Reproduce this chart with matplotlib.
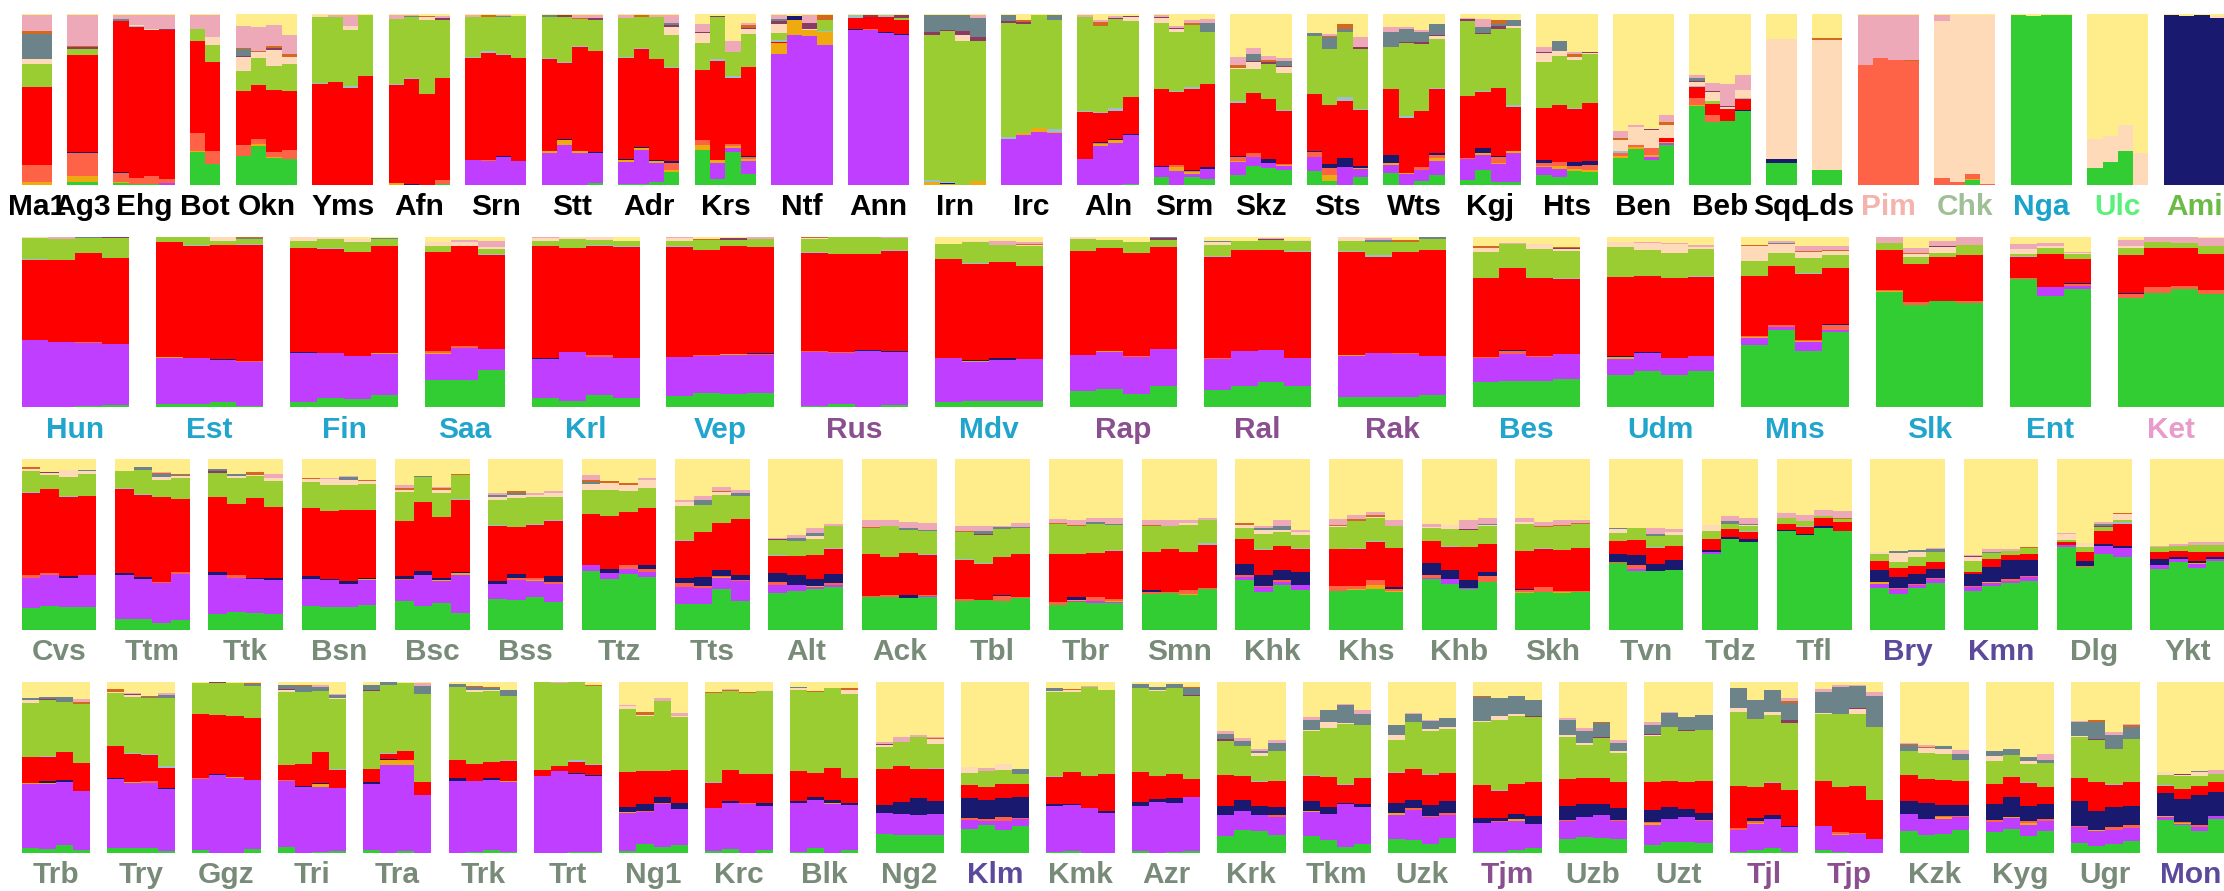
import matplotlib
matplotlib.use("Agg")
import matplotlib.pyplot as plt

# ancestry components, stacked bottom to top
comp_order = "GPOTNRBYEMSCKL"
comp_colors = {
    "G": "#32CD32",  # green
    "P": "#BF3EFF",  # purple
    "O": "#EEAA0E",  # goldenrod
    "T": "#FF6347",  # tomato
    "N": "#191970",  # navy
    "R": "#FF0000",  # red
    "B": "#9AC0CD",  # light blue
    "Y": "#9ACD32",  # yellow green
    "E": "#FFDAB9",  # peach
    "M": "#8B3A62",  # maroon
    "S": "#6C8389",  # slate
    "C": "#D2691E",  # chocolate
    "K": "#EEA9B8",  # pink
    "L": "#FFEC8B",  # khaki
}

BLK = "#000000"
BLU = "#22A5CC"
PUR = "#8A4F8F"
GRN = "#788A78"
DPU = "#5B4A9B"

# ---------------- row 1 ----------------
row1_names = ["Ma1", "Ag3", "Ehg", "Bot", "Okn", "Yms", "Afn", "Srn", "Stt", "Adr", "Krs",
              "Ntf", "Ann", "Irn", "Irc", "Aln", "Srm", "Skz", "Sts", "Wts", "Kgj", "Hts",
              "Ben", "Beb", "Sqq", "Lds", "Pim", "Chk", "Nga", "Ulc", "Ami"]
row1_label_colors = [BLK] * 26 + ["#F4B3AC", "#9FBF96", "#1CA3CC", "#5BF07C", "#6CBB47"]
row1_q = [
    ["O1.5 T10 R46 Y13 E3 S15 C1.5 K9.5 L0.5"],
    ["G2 O3 T13.5 N0.5 R57 Y3.5 M0.8 C1 K18 L0.5"],
    ["G1 O1 T5 N0.5 R88 S1 K2.5 L0.5", "G0.5 T3.5 R88 B0.5 E1 K5.7 L0.5",
     "G0.5 T4.5 N0.5 R85 E1 K8 L0.5", "P1 T2.5 R86 M1 K8 L0.5"],
    ["G19 O0.5 T10.5 N0.5 R53 B0.5 Y7 K8 L0.5", "G12 T8 R52 Y9.5 E4.7 K13 L0.5"],
    ["G17 T6.5 R31.5 Y11.7 E8 M0.6 S4 C0.6 K13 L7",
     "G23 O1 T3 R31.5 Y16 E3.5 C0.6 K14 L7.6",
     "G16 O0.6 T3 R36 Y14 E9.4 M1.2 C1.2 K12.3 L6.4",
     "G15 T5.3 R34 Y15.8 E4 C1.8 K11 L12.3"],
    ["R59 B0.6 Y38.6 E1.2 L0.6", "R60 Y38 K1.2 L0.6",
     "R56.7 B1.2 Y32.7 E2.3 K6.4 L0.6", "R63.7 Y35.7 L0.6"],
    ["O1.2 R57 B0.6 Y38 K2.3 L0.6", "N0.6 R61.4 B0.6 Y35.7 S0.6 K0.6 L0.6",
     "R53 Y43 E1.8 C0.6 L1", "G0.6 T2.3 R59.6 Y34 M1.2 K1.2 L1"],
    ["P14.6 R59.6 B0.6 Y23.4 K1.2 L0.6", "P14 T0.6 R62.6 B1.2 Y20 C1.2 L0.6",
     "P16.4 N0.6 R59 B0.6 Y21.6 S0.6 K0.6 L0.6", "P14 R60 Y25 L1"],
    ["P18.7 O1.2 R53.8 B0.6 Y24 S1.2 L0.6", "P23.4 O3 N0.6 R44.4 B0.6 Y26.3 M1.2 L0.6",
     "P18.7 O1.2 R60.8 B0.6 Y15.8 C0.6 K1.8 L0.6", "G1.2 P17.5 N0.6 R59 Y18 M1.2 K1.8 L0.6"],
    ["G0.6 P12.8 O1.2 N0.6 R59 B0.6 Y22.8 K1.8 L0.6",
     "G0.6 P19.9 O1.2 N0.6 R57.3 B0.6 Y18 C1.2 L0.6",
     "G1.8 P11 O1.2 N0.6 R59 Y24.6 K1.2 L0.6",
     "G7.6 O1.2 T4 N1.2 R54.4 B0.6 Y18.7 E4.7 M1.2 S1.2 K4.7 L0.6"],
    ["G20.5 O3 T3 R41 Y15.8 E5.8 M0.6 K4.7 L5.8",
     "G3.5 P9.4 O1.8 R57.9 B1.2 Y24.6 M0.6 L1.2",
     "G19.3 P2.3 O1.2 T1.2 R38.6 B1.2 Y14 K6.4 L15.8",
     "G6.4 P7.6 O1.2 T1.2 N0.6 R52 Y19.3 E3 M0.6 C1.8 K1.2 L5.3"],
    ["P76.6 O6.4 R0.6 B1.2 Y4 E5.3 M1.8 S1.2 K2.3 L0.6", "P87.7 O8.8 N2.3 L1.2",
     "P87 O3.5 E0.6 M3.5 K4.7 L0.6", "P81.9 O7.6 B0.6 Y6.4 C3 L0.6"],
    ["P90.6 N0.6 R6.4 B1.8 L0.6", "P90.6 T0.6 R7 M1.2 L0.6",
     "P88.9 N0.6 R8.8 B1.2 L0.6", "P87.7 N0.6 R8.2 Y1.2 M1.8 L0.6"],
    ["O1.8 B1.2 Y84.8 M1.8 S10 L0.6", "O0.6 N0.6 B0.6 Y88.3 M0.6 S8.8 L0.6",
     "Y84.2 E3.5 M2.3 S9.4 L0.6", "O2.3 Y81.9 M2.3 S11 K1.8 L0.6"],
    ["P26.9 B1.2 Y66.7 M1.2 S3.5 L0.6", "P29.2 O1.2 Y63.7 M1.2 C1.2 L3.5",
     "P31 O2.3 Y66 L0.6", "P30.4 O0.6 B1.8 Y63.7 S3 L0.6"],
    ["P15.2 R27.5 B0.6 Y55 K1.2 L0.6",
     "P22.8 O1.2 T0.6 N0.6 R17 B0.6 Y50.3 C2.3 K1.2 L3.5",
     "P24.6 O1.8 N0.6 R16.4 B1.8 Y52 M0.6 K1.2 L1.2",
     "G0.6 P28.7 N0.6 R21.6 Y44.4 E2.3 M0.6 L1.2"],
    ["G4.7 P5.8 N0.6 R45 Y38.6 E3 M0.6 K1.2 L0.6",
     "P8.2 O2.3 T1.2 R42.7 B0.6 Y34.5 E1.8 M0.6 K1.2 L7",
     "G4.7 P1.8 O1.2 T0.6 N0.6 R47.4 B1.2 Y36.3 C1.2 K1.8 L3.5",
     "G3.5 P5.8 N1.2 R48.5 Y30.4 S5.3 K2.3 L3"],
    ["G5.8 P7.6 O0.6 T2.3 N0.6 R31 B1.2 Y18.7 E0.6 C1.8 K4.7 L25",
     "G11 P5.3 T2.3 R35 Y14 E4 M0.6 S4 K3.5 L19.9",
     "G10 P3 N2.3 R35 Y20.5 M1.2 C1.2 K2.3 L24.6",
     "G8.8 P2.3 O0.6 T0.6 R31 B0.6 Y21.6 E3.5 M0.6 S3 K1.8 L25.7"],
    ["G8.2 P8.2 T3 N0.6 R33.3 Y33.9 S1.8 L11",
     "G2.3 O3.5 T4 N2.3 R34.5 Y32.7 S7 C0.6 K1.2 L11.7",
     "P10.5 N5.3 R33.3 B2.3 Y38 S1.8 C3 L5.8",
     "G4.7 P4.7 O0.6 N1.2 R32.7 B0.6 Y35 M1.2 K5.8 L13.5"],
    ["G7 P4.7 O1.2 N4.7 R38.6 Y24.6 S8.8 K3 L7.6",
     "P6.4 O0.6 R32.2 B1.2 Y42.7 M0.6 S7.6 K1.2 L7.6",
     "G2.3 P6.4 T1.8 R32.7 Y39.2 M1.2 S5.8 K1.2 L9.4",
     "G5.8 P8.2 O1.8 T1.8 N1.2 R37.4 B0.6 Y28.7 E1.8 M0.6 S6.4 L5.8"],
    ["G3 P12.3 T0.6 R36.3 Y43.9 M1.2 K0.6 L2.3",
     "G8.8 P8.8 O1.2 N3 R32.7 B0.6 Y33.3 M0.6 S3.5 K4.7 L3",
     "G1.8 P10.5 O0.6 T3.5 N0.6 R39.8 Y34.5 M1.8 S1.2 C2.3 L3.5",
     "G1.8 P17 O1.2 R25.7 B1.2 Y45 E1.2 S3.5 L3.5"],
    ["G5.8 P4.7 O0.6 T1.8 N1.8 R30.4 Y26.9 E5.3 M0.6 K2.9 L19.3",
     "G4.7 P4.7 O1.8 T2.3 R33.3 Y28.7 E3 S5.8 L15.8",
     "G8.2 O1.2 T1.8 N2.3 R31 B0.6 Y28 E1.8 C1.8 K1.2 L22.2",
     "G7.6 O1.2 T3 N2.3 R33.9 Y28.7 M0.6 E0.6 L22.2"],
    ["G15.8 T1.8 O1.2 B1.2 E6.4 C1.2 K4 L68.4",
     "G21 O1.2 T1.2 E10.5 K1.2 L65",
     "G14.6 P1.8 O1.2 T4 E10.5 M0.6 L67.3",
     "G23.4 P1 O1 R2.1 E7.6 C1.8 K4 L59"],
    ["G46.2 O0.6 T4 R6.4 B0.6 E2.3 M0.6 S1.8 K1.8 L35.7",
     "G36.8 T4 R6.4 Y1.8 E5.3 M0.6 K4.7 L40.4",
     "G37.4 R7 E1.2 M0.6 K12.9 L41",
     "G43.3 N0.6 R6.4 B0.6 E4.7 K8.8 L35.7"],
    ["G12.9 N2.3 E70.2 L14.6"],
    ["G8.8 E76 C1.2 L14"],
    ["T70.2 K29.2 L0.6", "T74.3 K25.1 L0.6", "T73 K26.3 L0.6", "T72.5 C0.6 K26.3 L0.6"],
    ["T4 E91.8 K3.5 L0.6", "T1.8 E97.6 L0.6", "G3 O0.6 T3 E93 L0.6", "T0.6 E98.8 L0.6"],
    ["G99.4 L0.6", "G98.8 L1.2", "G99.4 L0.6", "G99.4 L0.6"],
    ["G10 E17 L73", "G13.5 E15.2 L71.3", "G19.9 E15.2 L64.9", "E18.7 L81.3"],
    ["N99.4 L0.6", "N98.8 L1.2", "N99.4 L0.6", "N97.7 E1.2 L1.2"],
]

# ---------------- row 2 ----------------
row2_names = ["Hun", "Est", "Fin", "Saa", "Krl", "Vep", "Rus", "Mdv", "Rap", "Ral", "Rak",
              "Bes", "Udm", "Mns", "Slk", "Ent", "Ket"]
row2_label_colors = [BLU, BLU, BLU, BLU, BLU, BLU, PUR, BLU, PUR, PUR, PUR,
                     BLU, BLU, BLU, BLU, BLU, "#E99BCB"]
row2_q = [
    ["P39.2 R47 B0.6 Y12.4 E0.6 L0.2", "P38 R48.2 Y12.4 K1.2 L0.2",
     "G0.6 P36.9 T0.6 R52.4 Y8.8 S0.6 L0.2", "G1.2 P35.7 R50.6 Y11.8 M0.6"],
    ["G1.8 P26.9 O0.6 R67.6 Y2.9 L0.2", "G1.8 P26.9 R65.9 B0.6 Y4.7",
     "G2.9 P24.5 N0.6 R67 Y2.4 E2.4", "G0.6 P25.7 T0.6 R68.2 B0.6 Y2.9 S0.6 C0.6"],
    ["G2.9 P28.6 N0.6 R61.2 Y4.1 E2.4", "G5.3 P26.3 R61.2 B0.6 Y5.3 E1.2",
     "G4.7 P25.1 R61.2 Y5.9 E1.8 L1.2", "G7.1 P23.9 O0.6 R62.9 Y4.1 S0.6 L0.6"],
    ["G15.7 P15.3 O0.6 T1.2 R58.2 Y3.5 E2.4 L2.9",
     "G15.7 P18.8 T1.2 R58.8 E2.4 K1.2 L1.8",
     "G21.6 P12.4 R55.3 B0.6 Y2.9 E1.2 K3.5 L2.4"],
    ["G5.3 P22.7 N0.6 R65.9 Y2.9 E1.8 K0.6", "G3.5 P28.6 R61.2 Y5.3 E1.2",
     "G7.1 P22.2 T1.2 R64 B0.6 Y2.9 E1.8", "G5.3 P23.3 R65.3 B0.6 Y2.9 L2.4"],
    ["G6.5 P22.7 R64.7 B0.6 Y2.9 E1.8 K0.6", "G8.2 P21.6 T0.6 R61.8 Y5.9 C0.6 L1.2",
     "G7.6 P22.7 O0.6 R63.5 Y3.5 M1.2 L0.6", "G8.2 P22.2 T0.6 N0.6 R62.4 Y4.7 K1.2"],
    ["G0.6 P31.6 T0.6 R57.6 B0.6 Y7.6 E0.6 C0.6", "G1.8 P29.8 T0.6 R57.6 Y10",
     "P32.7 N0.6 R56.5 Y10", "G1.2 P31 N0.6 R58.8 B0.6 Y7.1 K0.6"],
    ["G2.9 P25.7 R58.2 Y8.8 L4.1", "G3.5 P22.7 O0.6 N0.6 R56.5 B0.6 Y12.4 E0.6 L2.4",
     "G3.5 P23.9 N1.2 R56.5 Y10 K2.4 L2.4", "G3.5 P24.5 R54.7 Y11.8 E0.6 C0.6 K1.2 L2.9"],
    ["G9.4 P21 R61.2 Y7.1 E1.2", "G10.4 P21.8 O0.6 R60.6 Y4.7 L1.8",
     "G7.6 P21.6 T0.6 R60.6 Y6.5 L2.9", "G12.4 P21.6 R60 Y4.1 M1.2 S0.6"],
    ["G10 P18 T0.6 R59.4 B0.6 Y6.5 E1.8 S0.6 L2.4", "G12.4 P20.4 R59.4 Y5.3 L2.4",
     "G14.7 P18.6 R58.8 Y5.9 M0.6 K0.6 L0.6", "G12.4 P16.3 R62.4 B0.6 Y5.9 E0.6 L1.8"],
    ["G5.7 P24.1 O0.6 R60.6 B0.6 Y5.9 E2.4",
     "G5.7 P25.9 R56.5 B1.2 Y7.6 S1.2 K1.2 L0.6",
     "G5.7 P25.3 T0.6 R59.4 Y5.9 C1.2 L1.8", "G7.1 P22.7 R62.4 Y6.5 S1.2"],
    ["G14.7 P13.9 T0.6 R46.5 Y15.3 E2.4 C1.2 L5.3",
     "G15.3 P15.7 T1.8 N0.6 R48.2 Y14.1 K0.6 L3.5",
     "G15.3 P13.9 T0.6 R45.9 Y17.1 E2.9 L4.1",
     "G16.5 P14.5 R44.1 B0.6 Y15.9 E1.2 M0.6 C0.6 L5.9"],
    ["G18.8 P9.2 O1.2 N0.6 R46.5 Y17.6 E2.9 L2.9",
     "G21.2 P10.4 N0.6 R44.7 Y15.3 E4.1 K0.6 L2.9",
     "G18.8 P9.8 R47 Y14.7 E5.3 K0.6 L3.5",
     "G21.2 P8.6 R46.5 B0.6 Y15.9 E1.2 K1.2 L4.7"],
    ["G36.3 P4.1 O0.6 T0.6 R35.3 Y8.8 E8.8 C0.6 L4.7",
     "G45.1 P1.8 T1.2 R34.7 Y7.6 E5.3 S0.6 K1.2 L2.4",
     "G32.7 P5.3 O0.6 T0.6 R38.8 B0.6 Y8.8 E3.5 C0.6 K2.9 L5.3",
     "G43.9 P1.2 T2.9 N0.6 R32.9 Y7.6 E2.4 C0.6 K2.4 L5.3"],
    ["G67.5 O0.6 T0.6 R23.5 Y4.1 K3.5",
     "G59.8 T1.8 R22.4 Y4.1 E1.8 C0.6 K2.9 L6.5",
     "G62.2 R25.9 Y2.4 E3.5 M0.6 K2.9 L2.4",
     "G61 T1.2 R27.1 Y5.9 K4.7"],
    ["G75.1 T0.6 R12.4 B0.6 Y1.2 E2.9 K2.9 L4.1",
     "G65.1 P5.3 R19.4 Y3.5 E1.2 K1.8 L3.5",
     "G69.2 P1.8 T1.2 N0.6 R14.1 Y2.9 E0.6 K0.6 L8.8"],
    ["G63.9 T2.4 N0.6 R22.4 Y4.1 E1.2 K3.5 L1.8", "G66.9 T3.5 R22.9 Y3.5 K2.9",
     "G69.2 T1.8 R22.4 Y2.9 K3.5", "G66.3 T2.4 R21.2 Y4.7 K4.7 L0.6"],
]

# ---------------- row 3 ----------------
row3_names = ["Cvs", "Ttm", "Ttk", "Bsn", "Bsc", "Bss", "Ttz", "Tts", "Alt", "Ack", "Tbl",
              "Tbr", "Smn", "Khk", "Khs", "Khb", "Skh", "Tvn", "Tdz", "Tfl", "Bry", "Kmn",
              "Dlg", "Ykt"]
row3_label_colors = [GRN] * 20 + [DPU, DPU, GRN, GRN]
row3_q = [
    ["G12.9 P17.5 T1.8 R48 B0.6 Y12.3 E1.2 C1.2 L4.7",
     "G14 P18.1 T1.2 R49.1 Y8.2 E1.2 M0.6 L7.6",
     "G13.5 P17 N1.2 R46.2 B0.6 Y11.1 E4.1 L6.4",
     "G13.5 P18.7 R46.2 Y12.9 E1.8 S0.6 L6.4"],
    ["G6.4 P25.7 N1.2 R49.1 B0.6 Y9.9 L7",
     "G6.4 P23.4 N1.2 R48 B0.6 Y14 S1.8 L4.7",
     "G4.1 P23.4 T0.6 R49.7 Y9.9 E1.8 S1.8 C0.6 K0.6 L7.6",
     "G5.8 P26.9 T1.2 R42.7 Y12.3 E1.2 S0.6 C0.6 L8.8"],
    ["G9.4 P22.8 N1.8 R43.9 Y14 M1.2 S1.2 L5.8",
     "G10.5 P19.9 T1.8 R41.5 Y15.2 E1.2 S1.2 L8.8",
     "G9.9 P19.9 N0.6 R46.8 Y12.9 E0.6 C1.8 L7.6",
     "G9.4 P19.9 N1.2 R41.5 Y15.2 E1.8 K2.3 L8.8"],
    ["G14 P15.8 N1.8 R39.8 Y15.2 E1.8 C0.6 L11.1",
     "G13.5 P15.8 N0.6 R39.8 Y15.2 E3.5 K0.6 L11.1",
     "G13.5 P13.5 N1.8 R41.5 Y14.6 E2.9 S1.8 K0.6 L9.9",
     "G14.6 P14.6 O0.6 N0.6 R39.8 Y15.2 E1.8 C0.6 L12.3"],
    ["G17 P12.3 T0.6 N1.8 R32.2 Y17 E1.2 C1.2 K1.8 L15.2",
     "G14 P18.1 N2.3 R40.4 Y14.6 S0.6 L9.9",
     "G15.8 P12.9 O0.6 N1.2 R35.7 Y14 E1.8 C1.2 K0.6 L16.4",
     "G9.9 P22.2 O1.2 N0.6 R42.1 B0.6 Y14 C0.6 L8.8"],
    ["G18.1 P8.8 N1.8 R32.2 B0.6 Y14.6 E1.8 S1.2 K1.2 L19.9",
     "G17.5 P11.7 T1.2 N2.3 R27.5 Y17 E1.8 S1.2 C1.2 L18.7",
     "G19.3 P9.4 O0.6 T1.2 R31 B0.6 Y15.8 E1.2 K1.2 L19.9",
     "G16.4 P10.5 T1.2 N3.5 R32.2 B0.6 Y13.5 E2.3 K1.2 L18.7"],
    ["G34.5 P3.5 R29.8 Y14 E3.5 S1.2 C1.2 K2.9 L9.4",
     "G29.8 P3.5 N2.3 R31 Y15.2 E4.1 C1.2 L12.9",
     "G32.7 P2.9 T2.3 R31 Y12.3 E3.5 C1.2 L14",
     "G31 P2.9 T1.8 N2.3 R33.3 Y11.7 E4.7 K1.2 L11.1"],
    ["G15.2 P9.9 T2.3 N2.9 R21.6 B0.6 Y19.9 E2.3 K1.2 L24",
     "G15.2 P9.4 T1.2 N5.3 R26.3 Y15.8 S2.9 K2.3 L21.6",
     "G24 P6.4 O0.6 T0.6 N3.5 R27.5 Y16.4 E1.8 C0.6 K2.3 L16.4",
     "G17 P11.7 T0.6 N2.9 R32.7 Y13.5 S1.8 K1.8 L18.1"],
    ["G21.6 P4.7 T1.8 N5.3 R9.9 B0.6 Y8.8 M0.6 K0.6 L46.2",
     "G22.8 P3.5 N5.8 R11.1 Y8.8 S1.8 K1.8 L44.4",
     "G24 P1.2 O0.6 N4.1 R14 Y9.4 E1.8 S1.8 K2.9 L40.4",
     "G25.1 P1.2 T1.2 N5.3 R14.6 Y12.9 B0.6 K1.2 L38"],
    ["G19.3 T0.6 R24.6 Y15.2 C0.6 K4.1 L35.7",
     "G19.3 T1.2 R22.2 Y18.1 K3.5 L35.7",
     "G18.7 N1.8 R24.6 Y13.5 S1.2 K3.5 L36.8",
     "G19.3 P0.6 T0.6 R23.4 B0.6 Y13.5 S0.6 K4.1 L37.4"],
    ["G17 T1.2 R22.8 B0.6 Y15.8 C0.6 K2.9 L39.2",
     "G17.5 R21 B0.6 Y16.4 M0.6 S1.8 K2.9 L39.2",
     "G17 T2.9 N0.6 R22.2 Y16.4 S1.2 K0.6 L39.2",
     "G18.7 T0.6 R25.1 Y15.2 S0.6 K2.3 L37.4"],
    ["G14.6 T1.8 R28 Y17.5 C0.6 K2.3 L35.1",
     "G16.4 P0.6 O0.6 N1.8 R25.1 Y16.4 C0.6 K2.9 L35.7",
     "G15.8 P1.2 T2.3 R25.7 Y17 S1.2 K2.3 L34.5",
     "G15.8 P0.6 O0.6 T1.2 R28 B0.6 Y14.6 S0.6 K3.5 L34.5"],
    ["G21 T1.2 N1.2 R22.2 Y15.2 C0.6 K2.9 L35.7",
     "G21.6 T0.6 R25.1 Y13.5 K3.5 L35.7",
     "G20.5 O0.6 T2.3 R22.2 Y15.8 E1.2 K1.8 L35.7",
     "G24 T0.6 R25.1 B1.2 Y13.5 K1.2 L34.5"],
    ["G29.2 P1.8 T1.2 N6.4 R14.6 Y6.4 E1.8 C1.2 L37.4",
     "G22.2 P2.9 T0.6 N6.4 R14.6 B0.6 Y8.8 E2.3 S1.2 K1.2 L39.2",
     "G26.3 P1.8 T1.2 N5.8 R14 Y8.2 E1.2 S2.3 K3.5 L35.7",
     "G23.4 P2.9 N7.6 R13.5 B0.6 Y7.6 E1.8 K1.2 L41.5"],
    ["G22.8 T2.9 R21.6 Y12.9 E0.6 C0.6 K3.5 L35.1",
     "G23.4 O0.6 T1.8 R21.6 B0.6 Y15.8 C1.2 K2.3 L32.7",
     "G24 O2.3 T2.9 R22.2 B0.6 Y13.5 E0.6 C1.2 K1.8 L31",
     "G22.2 O0.6 T1.2 N1.2 R22.8 Y12.9 K3.5 L35.7"],
    ["G29.8 P0.6 T1.8 N7 R12.9 Y7.6 E0.6 K1.8 L38",
     "G26.9 P2.9 N5.3 R13.5 B0.6 Y9.9 E2.3 L38.6",
     "G24 P0.6 N4.7 R19.3 Y9.9 M0.6 K5.3 L35.7",
     "G28 T3.5 N2.3 R16.4 Y10.5 E0.6 S0.6 K3.5 L34.5"],
    ["G21.6 O0.6 T1.2 N0.6 R22.2 Y15.8 E1.2 K2.3 L34.5",
     "G22.2 T2.9 R22.2 B0.6 Y12.3 C0.6 K2.3 L36.8",
     "G21.6 O0.6 T0.6 R24 Y14 C0.6 K2.9 L35.7",
     "G22.2 T0.6 R25.1 Y14 C0.6 K1.8 L35.7"],
    ["G39.2 T0.6 N4.7 R7.6 Y4.7 E2.3 S0.6 L40.4",
     "G34.5 P1.2 T2.3 N5.8 R8.8 Y7 L40.4",
     "G34.5 N4.1 R9.4 B0.6 Y6.4 S1.2 K3.5 L40.4",
     "G35.1 N5.8 R8.2 Y6.4 E1.8 K1.8 L41"],
    ["G44.4 P1.2 N1.2 R6.4 Y4.7 E3.5 L38.6",
     "G53.2 N1.2 R4.7 Y2.9 S1.8 K2.9 L33.3",
     "G52 N1.8 R4.1 B0.6 Y2.9 E0.6 S0.6 K3.5 L34.5"],
    ["G57.9 N0.6 R3.5 Y3.5 K2.9 L31.6",
     "G55.6 N0.6 R4.1 B0.6 Y2.9 K3.5 L32.7",
     "G59.6 N1.2 R4.7 Y1.2 K3.5 L29.8",
     "G57.9 R5.3 C0.6 Y1.8 K4.1 L30.4"],
    ["G24.6 P2.3 O1.2 N7 R5.3 Y4.1 E1.2 L54.4",
     "G21 P2.9 T0.6 N6.4 R5.3 Y3.5 E5.3 S1.2 L53.8",
     "G24.6 P1.8 T0.6 N5.8 R4.7 Y5.3 E2.9 S1.2 L53.2",
     "G27.5 P2.3 T0.6 N5.3 R4.1 Y5.8 S1.8 K0.6 L52"],
    ["G22.8 P2.3 T0.6 N7 R1.2 Y6.4 E2.3 M0.6 K0.6 L56",
     "G25.7 P1.8 O0.6 N8.8 R4.7 Y3.5 S0.6 K1.8 L52.6",
     "G27.5 P1.2 T1.2 N11.1 R2.9 Y2.3 K1.2 L52.6",
     "G28.7 P2.3 T0.6 N9.4 R3.5 Y3.5 C0.6 L51.5"],
    ["G48.5 P1.2 R1.8 Y1.2 E3.5 K0.6 L43.3",
     "G36.8 T0.6 N2.9 R5.3 Y2.9 E2.3 L49.1",
     "G44.4 P4.7 N1.2 R7.6 Y2.3 M0.6 S1.2 K1.2 L36.8",
     "G42.7 P5.3 N1.2 R12.9 B1.2 Y1.2 E3.5 C0.6 L31.6"],
    ["G35.7 P2.3 N3.5 R4.1 Y2.9 K0.6 L50.9",
     "G39.8 P1.8 N1.2 R3.5 Y2.9 K1.2 L49.7",
     "G36.3 P2.3 O0.6 N1.2 R5.3 Y4.1 K1.8 L48.5",
     "G40.4 P1.2 N1.2 R2.9 Y4.1 K1.8 L48.5"],
]

# ---------------- row 4 ----------------
row4_names = ["Trb", "Try", "Ggz", "Tri", "Tra", "Trk", "Trt", "Ng1", "Krc", "Blk", "Ng2",
              "Klm", "Kmk", "Azr", "Krk", "Tkm", "Uzk", "Tjm", "Uzb", "Uzt", "Tjl", "Tjp",
              "Kzk", "Kyg", "Ugr", "Mon"]
row4_label_colors = [GRN] * 11 + [DPU] + [GRN] * 5 + [PUR, GRN, GRN, PUR, PUR,
                                                     GRN, GRN, GRN, DPU]
row4_q = [
    ["G2.9 P37.3 O0.6 R15.2 Y31.6 E1.8 S1.2 L9.4",
     "G2.3 P37.9 O0.6 N1.2 R14.1 B0.6 Y32.8 M0.6 S1.2 L8.8",
     "G4.7 P36.7 N1.2 R16.4 Y29.3 S2.9 L8.8",
     "G1.8 P34.4 R16.4 Y34.6 C1.2 K1.8 L10"],
    ["G2.9 P40.2 N0.6 R18.8 Y31.1 E0.6 C1.8 L4.1",
     "G2.9 P37.9 O0.6 R16.4 B0.6 Y32.8 E1.2 M0.6 K0.6 L6.4",
     "G2.9 P37.9 T1.2 R15.2 B0.6 Y32.8 C0.6 S0.6 L8.2",
     "G1.2 P36.1 N0.6 R11.7 B1.2 Y39.8 S1.8 K1.2 L6.4"],
    ["G1.8 P41.4 T0.6 R37.5 Y18.2 L0.6", "P45.5 N0.6 R34.6 Y18.8 M0.6",
     "P43.8 O0.6 R35.7 Y19.3 L0.6", "G2.3 P40.2 R36.3 Y18.8 C0.6 S1.2 L0.6"],
    ["G3.5 P38.5 T0.6 R8.8 Y42.8 M0.6 S2.3 E1.2 L1.8",
     "P38.5 N0.6 R12.9 Y42.2 S3.5 C0.6 L1.8",
     "G0.6 P37.9 O1.8 N0.6 R18.2 Y35.7 S2.3 K1.2 L1.8",
     "G1.2 P36.7 R10.5 B0.6 Y41 S1.8 E0.6 K0.6 L7"],
    ["G1.8 P38.5 N1.2 R7.6 Y45.7 M0.6 S2.9 L1.8",
     "P51.4 O2.9 N0.6 R2.9 B0.6 Y39.8 S1.8",
     "G1.2 P50.2 O2.9 R5.3 Y39.8 L0.6",
     "P33.8 R7.6 Y51.6 S4.7 K1.8 L0.6"],
    ["P42 N1.8 R10.5 Y42.8 S1.8 L1.2",
     "G0.6 P41.4 R10 Y42.2 C0.6 S1.8 E1.2 L2.3",
     "G1.8 P40.8 N1.2 R9.4 Y41.6 C0.6 S1.2 E0.6 L2.9",
     "G0.6 P40.8 O0.6 R11.7 B0.6 Y37.5 S3.5 L4.7"],
    ["P44.9 R3.5 Y51.6", "P47.9 R2.9 Y48.6 K0.6",
     "G0.6 P45.5 N0.6 R6.4 B1.2 Y45.7",
     "G0.6 P44.3 N0.6 R5.9 B0.6 Y45.7 C0.6 L1.8"],
    ["G1.2 P22.1 O0.6 N2.9 R20.5 Y36.9 E1.8 K0.6 L13.5",
     "G5.3 P18.6 T0.6 N4.1 R19.3 Y32.2 E0.6 C1.8 L17.6",
     "G3.5 P25 T0.6 N3.5 R15.2 Y41 K1.8 L9.4",
     "G4.7 P20.9 N3.5 R19.3 Y31.1 E0.6 K1.8 L18.2"],
    ["G1.2 P25 R14.6 B0.6 Y52.1 C0.6 L5.9",
     "G2.3 P26.8 N1.2 R18.2 Y46.3 C0.6 K0.6 L4.1",
     "P28.5 T0.6 R17 Y47.5 C0.6 L5.9",
     "G1.8 P25.6 N1.8 R17 Y48.6 E0.6 L4.7"],
    ["G0.6 P28.5 N1.2 R17.6 Y47.5 S0.6 E1.2 L2.9",
     "G2.9 P27.9 N1.8 R14.1 Y47.5 C0.6 L5.3",
     "P28.5 O0.6 N1.8 R18.8 Y46.9 L3.5",
     "G1.8 P26.2 N1.2 R14.6 Y49.2 E2.3 C1.2 L3.5"],
    ["G10.9 P12.3 N4.7 R21.1 Y12.9 E1.2 M0.6 K1.2 L35.2",
     "G10.4 P12.3 N7 R21.1 Y14.1 K2.9 L32.2",
     "G10.4 P11.7 N10 R17 Y18.8 K1.2 L31.1",
     "G10.4 P12.3 N7.6 R18.8 B0.6 Y14.1 E2.9 C0.6 K0.6 L32.2"],
    ["G13.9 P5.3 T1.2 N11.7 R7.6 Y7 E3.5 L49.8",
     "G16.2 P2.3 T1.2 N11.1 R7.6 Y9.4 K1.8 L50.4",
     "G13.3 P5.3 T2.3 N11.1 R8.2 Y8.2 E3.5 L48",
     "G15.6 P4.1 T0.6 N12.3 R7.6 Y5.9 S2.9 L51"],
    ["G0.6 P26.8 N1.2 R15.8 B0.6 Y49.2 S1.8 E0.6 L3.5",
     "G1.2 P26.8 N0.6 R18.8 Y46.9 C0.6 E1.2 L4.1",
     "P26.2 R18.8 Y52.1 K0.6 L2.3",
     "P23.2 N1.2 R21.7 Y49.2 L4.7"],
    ["G1.2 P26.2 N2.3 R17.6 Y49.2 S2.3 L1.2",
     "P29.7 N1.8 R13.5 Y49.8 S1.8 E0.6 L2.9",
     "G0.6 P28.5 N2.9 R14.1 Y50.4 S2.3 L1.2",
     "G1.2 P31.4 R10.5 Y48.6 M0.6 S4.1 C0.6 L2.9"],
    ["G9.8 P12.3 N5.3 R18.2 Y19.9 M1.2 S2.9 K1.8 L28.7",
     "G13.3 P11.1 N6.4 R14.1 Y17.6 S2.9 K1.8 L32.8",
     "G12.7 P9.4 N5.3 R14.1 B0.6 Y14.6 E1.8 S1.2 K1.2 L39.3",
     "G10.4 P10.5 T1.2 N4.7 R15.2 Y17.6 S4.7 K1.8 L34"],
    ["G9.8 P14.1 O0.6 N5.9 R14.6 B0.6 Y25.8 E0.6 S5.9 K1.8 L20.5",
     "G7.4 P15.2 N4.1 R17.6 Y28.7 E3.5 S7 L16.4",
     "G3.5 P25 N0.6 R10.5 B0.6 Y35.2 E0.6 S10.5 K0.6 L12.9",
     "G5.3 P21.5 N1.8 R15.2 Y31.1 S6.4 K2.3 L16.4"],
    ["G8 P14.1 O1.2 N5.9 R17.6 B0.6 Y18.8 E2.9 S5.9 L25.2",
     "G7.4 P17.6 T1.2 N4.7 R18.2 Y27.5 S4.7 K0.6 L18.2",
     "G5.3 P15.6 T0.6 N6.4 R17.6 B0.6 Y25.2 E1.2 S4.7 K0.6 L22.3",
     "G8.6 P13.5 T1.2 N7 R16.4 Y25.8 E1.2 S5.3 L21.1"],
    ["G0.6 P16.8 N2.9 R19.3 Y36.9 E0.6 S14.1 C0.6 L8.2",
     "G0.6 P17.4 T0.6 N1.8 R15.8 B0.6 Y41 E2.3 S10.5 L9.4",
     "G1.8 P16.8 O1.2 N2.9 R17.6 Y39.8 E1.2 S10.5 L8.2",
     "G2.9 P13.9 N4.7 R19.9 Y38.1 M0.6 S9.4 L10.5"],
    ["G8 P10.5 T0.6 N8.2 R15.8 Y24.6 E1.2 S8.8 K1.2 L21.1",
     "G9.2 P11.7 N7.6 R15.2 Y19.3 E1.2 S7 K1.8 L27",
     "G8.6 P13.5 N6.4 R15.2 Y23.4 M0.6 S8.2 C0.6 L23.4",
     "G8 P10.5 T0.6 N7 R15.2 Y17 E1.2 S4.7 K1.8 L34"],
    ["G4.7 P11.5 O1.2 T0.6 N7.6 R16.4 Y27 E0.6 M0.6 S5.3 K1.8 L23.4",
     "G6.4 P13.3 N7 R15.2 Y31.6 S8.2 K0.6 L17.6",
     "G6.4 P14.5 N4.7 R15.8 Y29.9 M0.6 S7.6 L20.5",
     "G5.9 P12.7 T0.6 N4.1 R18.8 Y29.9 S8.8 L19.3"],
    ["G0.6 P12.7 T1.2 R24.6 Y43.4 E2.3 S11.7 L3.5",
     "G1.8 P15 O0.6 T1.2 N1.8 R18.2 Y39.8 S11.1 L10.5",
     "G2.9 P16.8 N2.3 R18.8 B0.6 Y39.3 E1.8 S12.9 L4.7",
     "G0.6 P14.5 N0.6 R21.1 Y39.3 M1.8 S10 C1.2 K1.8 L9.4"],
    ["G1.8 P13.9 R26.4 Y39.3 E0.6 S12.3 K1.8 L4.1",
     "G0.6 P9.8 O0.6 T1.2 R26.4 Y42.8 S15.8 K1.2 L1.8",
     "P10.9 T0.6 R27.5 Y42.2 E2.9 M0.6 S12.9 K0.6 L1.8",
     "P8 R22.9 Y42.8 S18.2 K2.3 L5.9"],
    ["G12.7 P10 N7.6 R15.8 Y14.1 S3.5 C0.6 K0.6 L35.7",
     "G10.4 P9.4 N9.4 R14.1 Y15.2 E2.9 C0.6 K1.2 L36.9",
     "G10.9 P8.8 O1.2 T0.6 N6.4 R14.6 Y15.2 E2.9 S1.8 L37.5",
     "G13.3 P7.6 T0.6 N6.4 R14.1 Y12.3 S3.5 K2.3 L39.8"],
    ["G12.1 P5.9 T1.2 N9.4 R11.7 Y13.5 E2.9 S2.9 L40.4",
     "G13.9 P6.4 O0.6 N11.7 R11.7 Y12.9 S3.5 L39.3",
     "G9.8 P6.4 O1.2 T1.2 N8.8 R13.5 B0.6 Y10.5 E1.8 S2.3 L43.9",
     "G12.7 P5.9 T1.2 N8.8 R10 Y14.1 S1.8 K3.5 L42.2"],
    ["G5.7 P9.4 T0.6 N14.6 R13.5 Y24 E0.6 S8.2 K0.6 L22.9",
     "G4.1 P8.6 O0.6 N11.1 R17 Y24.6 M0.6 S10 C1.2 L22.3",
     "G5.3 P8 T1.8 N11.7 R12.9 B0.6 Y20.5 S8.2 K1.8 L29.3",
     "G6.8 P7.6 T1.8 N11.1 R14.1 Y25.2 S7 C1.2 K0.6 L24.6"],
    ["G19.1 P1.8 O0.6 N13.5 R4.1 B0.6 Y5.9 E1.8 L52.7",
     "G16.2 P0.6 O0.6 T0.6 N13.5 R5.9 Y7.6 E0.6 M0.6 L53.3",
     "G12.7 P2.3 T1.2 N17.6 R5.3 Y5.9 E2.3 S0.6 L52.1",
     "G19.7 P1.8 N14.1 R5.9 Y4.7 K2.3 L51.6"],
]

# pixel layout: bar top / bar bottom / label baseline for each row
W, H = 2224, 891
rows = [
    (row1_names, row1_label_colors, row1_q, 14, 185, 215),
    (row2_names, row2_label_colors, row2_q, 237, 407, 438),
    (row3_names, row3_label_colors, row3_q, 459, 630, 660),
    (row4_names, row4_label_colors, row4_q, 682, 853, 883),
]
x_left, x_right = 21.5, 2225.0


def parse(s):
    d = {}
    for tok in s.split():
        d[tok[0]] = float(tok[1:])
    return d


fig = plt.figure(figsize=(W / 100, H / 100), dpi=100)
ax = fig.add_axes([0, 0, 1, 1])
ax.set_xlim(0, W)
ax.set_ylim(0, H)
ax.axis("off")

for names, lcolors, q, top, bottom, base in rows:
    units = [max(len(c), 2) for c in q]
    u = (x_right - x_left) / (sum(units) + len(q) - 1)
    x = x_left
    y0 = H - bottom
    hgt = bottom - top
    for name, lc, cols, nu in zip(names, lcolors, q, units):
        pw = nu * u
        bw = pw / len(cols)
        for j, s in enumerate(cols):
            d = parse(s)
            tot = sum(d.values())
            cum = 0.0
            for k in comp_order:
                if k not in d:
                    continue
                h = d[k] / tot * hgt
                ax.bar(x + j * bw, h, width=bw, bottom=y0 + cum, align="edge",
                       color=comp_colors[k], linewidth=0, antialiased=False)
                cum += h
        ax.text(x + pw / 2, H - base, name, ha="center", va="baseline",
                fontsize=21.5, fontweight="bold", color=lc,
                family=["Liberation Sans", "DejaVu Sans"])
        x += pw + u

fig.savefig("out.png", dpi=100)
